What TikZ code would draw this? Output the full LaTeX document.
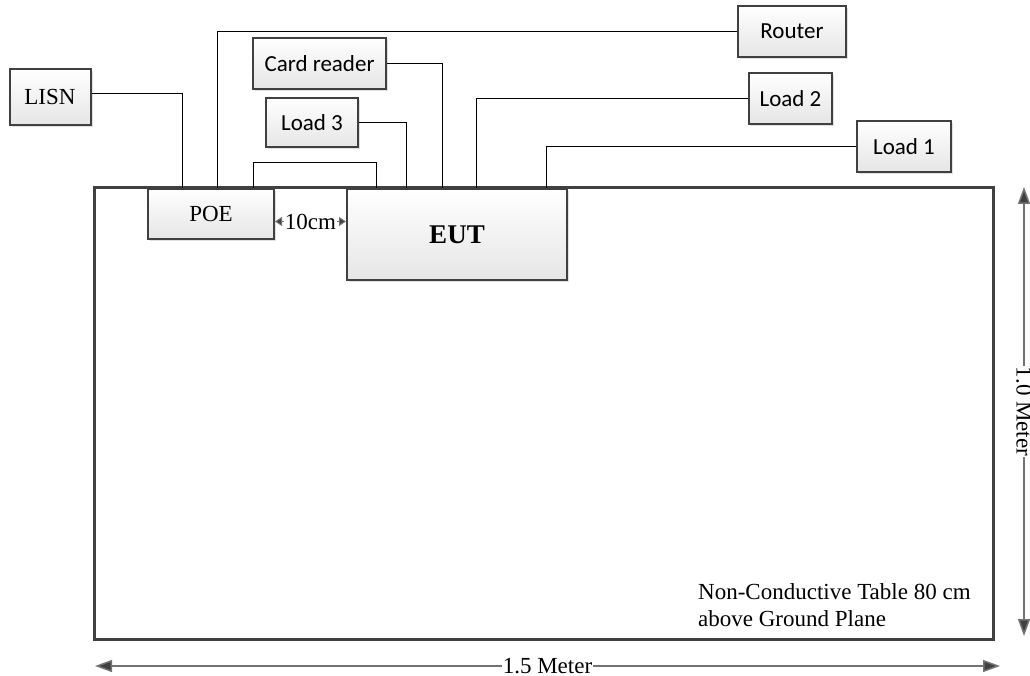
\documentclass[tikz,border=0pt]{standalone}
\usepackage{fontspec}
\setmainfont{Liberation Serif}
\newfontfamily\calibri{Carlito}
\usetikzlibrary{arrows.meta,shadows}
\begin{document}
\begin{tikzpicture}[x=1pt,y=-1pt,
				every node/.style={inner sep=0pt,font=\fontsize{23}{27}\selectfont},
				box/.style={draw=black!75,line width=2pt,top color=white,bottom color=black!10,
					drop shadow={shadow xshift=2pt,shadow yshift=-2pt,fill=black!12,opacity=1}},
				sansbox/.style={box,font=\calibri\fontsize{23}{27}\selectfont},
				wire/.style={line width=1pt},
				dimline/.style={draw=black!55,line width=1.5pt,{Triangle[length=17pt,width=12pt,fill=black!75]}-{Triangle[length=17pt,width=12pt,fill=black!75]}},
				dimlabel/.style={fill=white,inner xsep=1pt}]
\useasboundingbox (0,0) rectangle (1030,676);
% table
\draw[draw=black!75,line width=3pt] (94,188) rectangle (993,639);
\node[anchor=north west,align=left] (tabletext) at (698,583) {Non-Conductive Table 80 cm\\above Ground Plane};
% boxes
\node[box,minimum width=81pt,minimum height=56pt] (lisn) at (50,97.5) {LISN};
\node[box,minimum width=126pt,minimum height=50pt] (poe) at (211,214) {POE};
\node[box,minimum width=220pt,minimum height=91pt,font=\bfseries\fontsize{27}{30}\selectfont] (eut) at (457,234.5) {EUT};
\node[sansbox,minimum width=133pt,minimum height=51pt] (card) at (319.5,63.5) {Card reader};
\node[sansbox,minimum width=92pt,minimum height=49pt] (load3) at (312,122.5) {Load 3};
\node[sansbox,minimum width=108pt,minimum height=51pt] (router) at (792,31.5) {Router};
\node[sansbox,minimum width=83pt,minimum height=51pt] (load2) at (790.5,98.5) {Load 2};
\node[sansbox,minimum width=94pt,minimum height=51pt] (load1) at (904,146.5) {Load 1};
% cables
\draw[wire] ([yshift=4pt]lisn.east) -| ([xshift=-28.5pt]poe.north);
\draw[wire] (router.west) -| ([xshift=6pt]poe.north);
\draw[wire] ([xshift=42pt]poe.north) -- ++(0,-25) -| ([xshift=-81pt]eut.north);
\draw[wire] (card.east) -| ([xshift=-15pt]eut.north);
\draw[wire] (load3.east) -| ([xshift=-50.5pt]eut.north);
\draw[wire] (load2.west) -| ([xshift=19.5pt]eut.north);
\draw[wire] (load1.west) -| ([xshift=89.5pt]eut.north);
% dimensions
\coordinate (gap) at (310,221.5);
\draw[draw=black!55,line width=1pt,{Triangle[length=7pt,width=9pt,fill=black!75]}-{Triangle[length=7pt,width=9pt,fill=black!75]}]
	(poe.east |- gap) -- node[dimlabel] (gaplabel) {10cm} (eut.west |- gap);
\coordinate (wl) at (95,666);
\coordinate (wr) at (1000,666);
\draw[dimline] (wl) -- node[dimlabel] (widthlabel) {1.5 Meter} (wr);
\coordinate (dt) at (1024,187);
\coordinate (db) at (1024,636);
\draw[dimline] (dt) -- node[dimlabel,rotate=-90] (depthlabel) {1.0 Meter} (db);
\end{tikzpicture}
\end{document}
